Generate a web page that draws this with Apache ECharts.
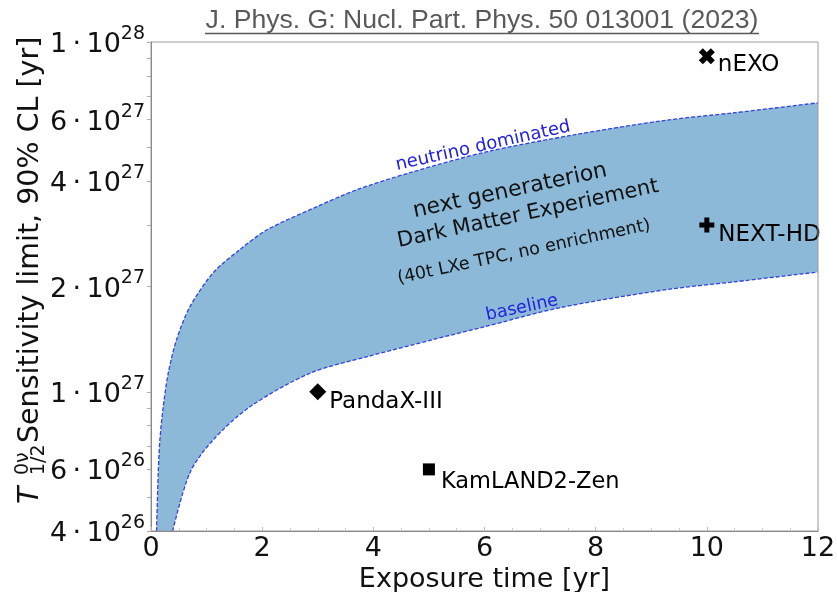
<!DOCTYPE html>
<html>
<head>
<meta charset="utf-8">
<script src="https://cdn.jsdelivr.net/npm/echarts@6/dist/echarts.min.js"></script>
<style>
  html, body { margin: 0; padding: 0; background: #ffffff; }
  #chart { width: 837px; height: 592px; }
</style>
</head>
<body>
<div id="chart"></div>
<script>
// Upper edge of the sensitivity band ("neutrino dominated")
const neutrinoX = [0.10, 0.13, 0.16, 0.22, 0.31, 0.46, 0.70, 1.12, 1.60, 2.08, 2.98, 3.70, 4.66, 6.03, 7.59, 9.28, 10.47, 12];
const neutrinoT = [4.0e26, 5.87e26, 7.29e26, 9.06e26, 1.13e27, 1.41e27, 1.75e27, 2.19e27, 2.55e27, 2.90e27, 3.38e27, 3.78e27, 4.23e27, 4.85e27, 5.42e27, 5.98e27, 6.27e27, 6.70e27];

// Lower edge of the sensitivity band ("baseline")
const baselineX = [0.39, 0.70, 1.12, 1.78, 2.86, 3.89, 5.07, 5.97, 7.36, 9.28, 10.47, 12];
const baselineT = [4.0e26, 5.87e26, 7.29e26, 9.06e26, 1.13e27, 1.26e27, 1.41e27, 1.53e27, 1.74e27, 1.96e27, 2.06e27, 2.20e27];

// Other experiments
const expNames = ['nEXO', 'NEXT-HD', 'PandaX-III', 'KamLAND2-Zen'];
const expTime = [10, 10, 3, 5];
const expT = [9.1e27, 3.0e27, 1.0e27, 6.0e26];

// Axis ticks
const yTickValues = [4e26, 6e26, 1e27, 2e27, 4e27, 6e27, 1e28];
const yMinorTicks = [4e26, 5e26, 6e26, 7e26, 8e26, 9e26, 1e27, 2e27, 3e27, 4e27, 5e27, 6e27, 7e27, 8e27, 9e27, 1e28];
const xTickValues = [0, 2, 4, 6, 8, 10, 12];

const FONT = 'DejaVu Sans';
const PLUS = 'path://M4,0H8V4H12V8H8V12H4V8H0V4H4Z';
const EDGE = { color: '#3343da', width: 1.3, type: [4, 2] };

function sciLabel(v) {
  const e = Math.floor(Math.log10(v) + 1e-9);
  const m = Math.round(v / Math.pow(10, e));
  return '{m|' + m + '\u2009\u00b7\u200910}{e|' + e + '}';
}

const markerStyles = [
  { symbol: PLUS, symbolSize: 17, symbolRotate: 45, pos: [23, 21], fontSize: 23 },
  { symbol: PLUS, symbolSize: 15, symbolRotate: 0, pos: [19, 18], fontSize: 23 },
  { symbol: 'diamond', symbolSize: [17, 17], symbolRotate: 0, pos: [20, 19], fontSize: 23 },
  { symbol: 'rect', symbolSize: 12, symbolRotate: 0, pos: [18, 19], fontSize: 22.5 }
];

const expData = expNames.map((name, i) => ({
  name: name,
  value: [expTime[i], expT[i]],
  symbol: markerStyles[i].symbol,
  symbolSize: markerStyles[i].symbolSize,
  symbolRotate: markerStyles[i].symbolRotate,
  label: {
    show: true,
    position: markerStyles[i].pos,
    align: 'left',
    verticalAlign: 'middle',
    fontSize: markerStyles[i].fontSize,
    fontFamily: FONT,
    color: '#000000',
    formatter: name
  }
}));

function textStyle(text, size, color, align) {
  return {
    text: text, fontSize: size, fontFamily: FONT, fill: color,
    align: align, verticalAlign: 'middle', textAlign: align, textVerticalAlign: 'middle'
  };
}

const chart = echarts.init(document.getElementById('chart'), null, { renderer: 'canvas' });

chart.setOption({
  animation: false,
  backgroundColor: '#ffffff',
  grid: {
    left: 151, right: 19, top: 42, bottom: 61,
    outerBoundsMode: 'none',
    containLabel: false,
    show: true, z: 10, borderColor: '#9a9a9a', borderWidth: 1, backgroundColor: 'transparent'
  },
  xAxis: {
    type: 'value',
    z: 10,
    min: 0, max: 12, interval: 2,
    axisLine: { show: true, lineStyle: { color: '#8a8a8a', width: 1 } },
    axisTick: { show: true, inside: true, length: 4, lineStyle: { color: '#bbbbbb' } },
    minorTick: { show: true, splitNumber: 4, length: 3, lineStyle: { color: '#cccccc' } },
    splitLine: { show: false },
    axisLabel: { fontSize: 27, fontFamily: FONT, color: '#111111', margin: 4 },
    name: 'Exposure time [yr]',
    nameLocation: 'middle',
    nameGap: 32,
    nameTextStyle: { fontSize: 27, fontFamily: FONT, color: '#111111' }
  },
  yAxis: {
    type: 'log',
    z: 10,
    logBase: 10,
    min: 4e26, max: 1e28,
    axisLine: { show: true, lineStyle: { color: '#8a8a8a', width: 1 } },
    axisTick: { show: true, length: 4, customValues: yMinorTicks, lineStyle: { color: '#aaaaaa' } },
    splitLine: { show: false },
    minorTick: { show: false },
    axisLabel: {
      customValues: yTickValues,
      margin: 6,
      formatter: sciLabel,
      rich: {
        m: { fontSize: 27, fontFamily: FONT, color: '#111111', padding: [6, 0, 0, 0] },
        e: { fontSize: 19, fontFamily: FONT, color: '#111111', padding: [0, 0, 16, 0] }
      }
    }
  },
  series: [
    {
      // band fill down to the axis, then the region under the baseline is painted over
      type: 'line',
      name: 'neutrino dominated',
      data: neutrinoX.map((x, i) => [x, neutrinoT[i]]),
      showSymbol: false,
      smooth: 0.3,
      z: 2,
      lineStyle: EDGE,
      areaStyle: { color: '#8db9d8', opacity: 1, origin: 'start' }
    },
    {
      type: 'line',
      name: 'baseline',
      data: baselineX.map((x, i) => [x, baselineT[i]]),
      showSymbol: false,
      smooth: 0.3,
      z: 3,
      lineStyle: EDGE,
      areaStyle: { color: '#ffffff', opacity: 1, origin: 'start' }
    },
    {
      type: 'scatter',
      z: 5,
      itemStyle: { color: '#000000', opacity: 1 },
      data: expData
    }
  ],
  graphic: [
    {
      type: 'text', x: 482, y: 21, z: 10,
      style: { text: 'J. Phys. G: Nucl. Part. Phys. 50 013001 (2023)', fontSize: 26.6, fontFamily: 'Liberation Sans',
               fill: '#595959', align: 'center', verticalAlign: 'middle', textAlign: 'center', textVerticalAlign: 'middle' }
    },
    {
      type: 'line', z: 10,
      shape: { x1: 205, y1: 33.5, x2: 759, y2: 33.5 },
      style: { stroke: '#595959', lineWidth: 1.4 }
    },
    {
      type: 'group', x: 31, y: 504, rotation: Math.PI / 2, z: 10,
      children: [
        { type: 'text', x: 0, y: 0, style: Object.assign(textStyle('T', 28.5, '#111111', 'left'), { fontStyle: 'italic' }) },
        { type: 'text', x: 29, y: -8, style: textStyle('0\u03bd', 19, '#111111', 'left') },
        { type: 'text', x: 29, y: 8, style: textStyle('1/2', 19, '#111111', 'left') },
        { type: 'text', x: 61, y: 0, style: textStyle('Sensitivity limit, 90% CL [yr]', 28.5, '#111111', 'left') }
      ]
    },
    { type: 'text', x: 510, y: 191, rotation: 0.21, z: 10, style: textStyle('next generaterion', 22, '#111111', 'center') },
    { type: 'text', x: 528, y: 214, rotation: 0.21, z: 10, style: textStyle('Dark Matter Experiement', 21, '#111111', 'center') },
    { type: 'text', x: 524, y: 252, rotation: 0.21, z: 10, style: textStyle('(40t LXe TPC, no enrichment)', 17.5, '#111111', 'center') },
    { type: 'text', x: 483, y: 146, rotation: 0.22, z: 10, style: textStyle('neutrino dominated', 18, '#2222dd', 'center') },
    { type: 'text', x: 522, y: 308, rotation: 0.21, z: 10, style: textStyle('baseline', 17.5, '#2222dd', 'center') }
  ]
});
</script>
</body>
</html>
